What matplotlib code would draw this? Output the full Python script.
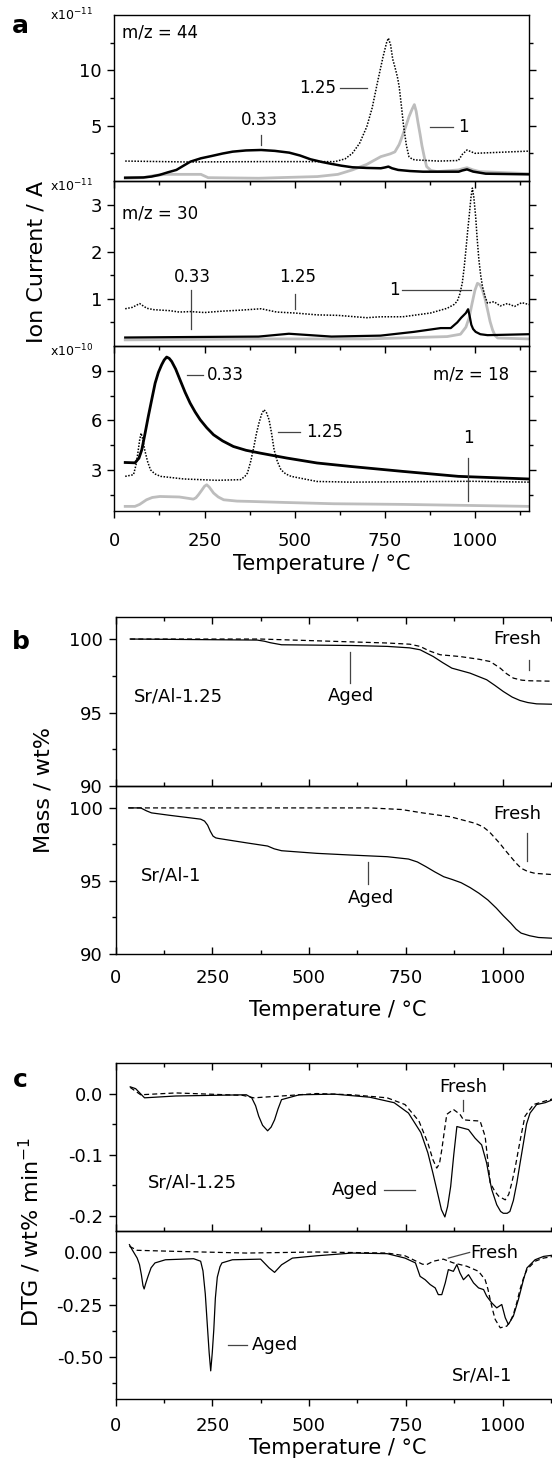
import matplotlib
matplotlib.use("Agg")
import matplotlib.pyplot as plt
from matplotlib.ticker import MultipleLocator, FixedLocator, FormatStrFormatter

# ---- panel a : MS ion currents (m/z 44, 30, 18) for Sr/Al = 0.33, 1, 1.25 ----
t44_033 = [30, 80, 103, 125, 150, 172, 190, 211, 240, 270, 300, 328, 365, 407, 445, 485, 515, 544, 575, 603,
           630, 660, 700, 739, 750, 760, 770, 787, 820, 856, 955, 965, 978, 995, 1030, 1150]
i44_033 = [0.3, 0.32, 0.4, 0.55, 0.8, 1.0, 1.35, 1.75, 2.05, 2.26, 2.48, 2.65, 2.76, 2.8, 2.72, 2.56, 2.3, 1.96,
           1.72, 1.54, 1.38, 1.24, 1.18, 1.15, 1.22, 1.3, 1.15, 1.0, 0.9, 0.84, 0.84, 0.95, 1.05, 0.85, 0.66, 0.6]
t44_1 = [30, 80, 110, 143, 240, 250, 260, 400, 563, 620, 660, 700, 739, 765, 778, 790, 798, 808, 817, 826, 832,
         837, 842, 848, 853, 860, 866, 878, 895, 955, 965, 978, 995, 1013, 1150]
i44_1 = [0.24, 0.3, 0.5, 0.6, 0.6, 0.45, 0.3, 0.25, 0.4, 0.6, 1.0, 1.5, 2.2, 2.45, 2.63, 3.3, 4.0, 4.9, 5.8, 6.5,
         6.9, 6.3, 5.3, 4.2, 3.2, 2.1, 1.3, 0.95, 0.85, 1.0, 1.1, 1.2, 1.0, 0.85, 0.66]
t44_125 = [30, 200, 400, 612, 640, 660, 680, 700, 715, 729, 745, 755, 760, 766, 772, 778, 785, 790, 796, 802,
           810, 817, 827, 837, 900, 954, 965, 978, 1000, 1150]
i44_125 = [1.8, 1.72, 1.75, 1.75, 2.0, 2.5, 3.4, 4.9, 6.6, 8.8, 11.2, 12.5, 12.9, 12.3, 11.0, 10.3, 9.4, 8.5, 6.8,
           5.0, 3.2, 2.2, 1.95, 1.9, 1.8, 1.85, 2.4, 2.8, 2.5, 2.7]

t30_033 = [30, 200, 400, 484, 602, 738, 831, 905, 933, 951, 962, 975, 981, 985, 990, 995, 1002, 1015, 1035, 1150]
i30_033 = [0.18, 0.19, 0.2, 0.26, 0.2, 0.22, 0.3, 0.38, 0.38, 0.5, 0.6, 0.7, 0.78, 0.65, 0.45, 0.36, 0.3, 0.25,
           0.23, 0.25]
t30_1 = [30, 400, 700, 923, 960, 975, 984, 992, 1000, 1007, 1014, 1021, 1028, 1035, 1042, 1049, 1056, 1063, 1150]
i30_1 = [0.13, 0.15, 0.15, 0.2, 0.25, 0.4, 0.6, 0.9, 1.18, 1.33, 1.3, 1.19, 1.0, 0.77, 0.52, 0.34, 0.22, 0.17, 0.15]
t30_125 = [30, 50, 70, 90, 110, 153, 180, 211, 250, 300, 350, 407, 450, 500, 563, 620, 700, 738, 800, 877, 923,
           942, 951, 958, 965, 970, 975, 980, 984, 989, 993, 997, 1002, 1006, 1011, 1016, 1021, 1028, 1035, 1053,
           1070, 1090, 1110, 1130, 1150]
i30_125 = [0.79, 0.82, 0.9, 0.8, 0.77, 0.75, 0.72, 0.73, 0.71, 0.74, 0.76, 0.79, 0.72, 0.7, 0.66, 0.65, 0.6, 0.62,
           0.62, 0.7, 0.8, 0.88, 0.95, 1.1, 1.34, 1.65, 2.04, 2.45, 2.75, 3.15, 3.35, 3.15, 2.75, 2.3, 1.83, 1.5,
           1.26, 1.05, 0.91, 0.94, 0.85, 0.9, 0.84, 0.92, 0.88]

t18_033 = [30, 57, 68, 76, 85, 94, 104, 113, 122, 131, 138, 145, 152, 159, 170, 182, 196, 210, 224, 238, 256, 275,
           300, 330, 365, 404, 478, 562, 655, 800, 954, 1150]
i18_033 = [3.44, 3.42, 3.7, 4.21, 5.2, 6.23, 7.3, 8.25, 8.9, 9.36, 9.65, 9.83, 9.75, 9.56, 9.1, 8.45, 7.7, 7.04,
           6.5, 6.03, 5.55, 5.12, 4.75, 4.41, 4.18, 4.01, 3.71, 3.41, 3.2, 2.9, 2.6, 2.44]
t18_1 = [30, 57, 70, 89, 105, 126, 180, 219, 226, 233, 242, 250, 256, 263, 275, 288, 303, 340, 377, 469, 608, 800,
         1150]
i18_1 = [0.78, 0.78, 0.9, 1.18, 1.32, 1.38, 1.35, 1.22, 1.3, 1.48, 1.75, 2.0, 2.09, 1.95, 1.59, 1.35, 1.18, 1.1,
         1.08, 1.02, 0.94, 0.9, 0.78]
t18_125 = [30, 53, 60, 65, 70, 74, 78, 84, 92, 100, 112, 128, 193, 285, 350, 362, 369, 378, 387, 394, 401, 408,
           415, 422, 429, 436, 443, 452, 462, 475, 490, 562, 655, 993, 1150]
i18_125 = [2.6, 2.7, 3.3, 4.0, 4.8, 5.22, 4.9, 4.21, 3.5, 3.0, 2.75, 2.6, 2.44, 2.36, 2.4, 2.6, 2.8, 3.5, 4.41,
           5.2, 5.83, 6.35, 6.64, 6.45, 6.03, 5.2, 4.21, 3.5, 3.0, 2.75, 2.6, 2.29, 2.25, 2.3, 2.25]

# ---- panel b : TG mass curves ----
tb1_fresh = [38, 375, 520, 702, 760, 787, 810, 839, 890, 940, 968, 994, 1010, 1028, 1050, 1071, 1150]
mb1_fresh = [100, 100, 99.88, 99.73, 99.65, 99.5, 99.2, 98.93, 98.81, 98.62, 98.47, 98.02, 97.65, 97.34, 97.2,
             97.16, 97.12]
tb1_aged = [38, 366, 385, 400, 429, 611, 702, 760, 787, 821, 845, 869, 916, 959, 980, 1002, 1025, 1045, 1065,
            1088, 1150]
mb1_aged = [100, 99.93, 99.85, 99.75, 99.61, 99.56, 99.5, 99.4, 99.27, 98.81, 98.4, 98.02, 97.68, 97.23, 96.85,
            96.43, 96.05, 95.82, 95.68, 95.59, 95.55]
tb2_fresh = [34, 520, 657, 739, 793, 866, 930, 950, 966, 980, 993, 1007, 1021, 1035, 1048, 1065, 1084, 1150]
mb2_fresh = [100, 100, 100, 99.89, 99.66, 99.39, 98.94, 98.7, 98.36, 97.95, 97.57, 97.1, 96.66, 96.22, 95.87,
             95.65, 95.52, 95.4]
tb2_aged = [34, 65, 80, 93, 138, 220, 230, 238, 245, 252, 259, 266, 338, 393, 410, 429, 520, 611, 702, 757, 780,
            802, 825, 848, 870, 893, 916, 939, 962, 984, 1002, 1021, 1035, 1048, 1070, 1093, 1150]
mb2_aged = [100, 100, 99.8, 99.66, 99.5, 99.23, 99.1, 98.82, 98.4, 98.07, 97.95, 97.91, 97.61, 97.39, 97.2, 97.07,
            96.89, 96.77, 96.66, 96.5, 96.3, 95.98, 95.62, 95.29, 95.1, 94.88, 94.55, 94.16, 93.7, 93.14, 92.62,
            92.12, 91.7, 91.43, 91.25, 91.13, 91.05]

# ---- panel c : DTG curves ----
tc1_aged = [38, 52, 75, 156, 338, 352, 362, 370, 380, 393, 402, 411, 420, 429, 475, 566, 657, 720, 757, 789, 807,
            820, 830, 842, 851, 858, 866, 874, 882, 912, 929, 946, 959, 965, 972, 985, 995, 1002, 1012, 1019, 1028,
            1037, 1045, 1054, 1062, 1071, 1088, 1110, 1150]
dc1_aged = [0.011, 0.008, -0.007, -0.004, -0.002, -0.007, -0.02, -0.037, -0.052, -0.061, -0.055, -0.043, -0.025,
            -0.01, -0.002, -0.001, -0.006, -0.015, -0.032, -0.064, -0.097, -0.13, -0.157, -0.19, -0.202, -0.185,
            -0.152, -0.1, -0.054, -0.059, -0.073, -0.084, -0.114, -0.135, -0.157, -0.182, -0.193, -0.196, -0.196,
            -0.193, -0.175, -0.146, -0.115, -0.081, -0.05, -0.032, -0.018, -0.015, -0.005]
tc1_fresh = [38, 65, 156, 329, 357, 429, 520, 611, 702, 748, 784, 807, 820, 830, 837, 843, 850, 856, 873, 890,
             899, 916, 942, 955, 962, 968, 980, 990, 1007, 1016, 1024, 1033, 1041, 1050, 1058, 1080, 1106, 1150]
dc1_fresh = [0.010, -0.002, 0.001, -0.003, -0.007, -0.004, 0.0, -0.002, -0.007, -0.018, -0.045, -0.081, -0.108,
             -0.122, -0.115, -0.092, -0.06, -0.034, -0.026, -0.034, -0.043, -0.044, -0.045, -0.07, -0.11, -0.146,
             -0.16, -0.168, -0.174, -0.165, -0.146, -0.12, -0.092, -0.062, -0.037, -0.018, -0.013, -0.005]
tc2_aged = [36, 43, 56, 62, 67, 71, 74, 78, 84, 92, 102, 129, 202, 220, 226, 232, 238, 242, 246, 250, 254, 258,
            263, 270, 275, 302, 375, 397, 411, 429, 457, 520, 611, 702, 748, 775, 787, 800, 813, 826, 834, 843,
            852, 860, 873, 882, 890, 899, 912, 925, 938, 951, 959, 972, 985, 998, 1007, 1015, 1028, 1041, 1054,
            1063, 1084, 1106, 1150]
dc2_aged = [0.035, 0.011, -0.029, -0.06, -0.11, -0.16, -0.176, -0.15, -0.116, -0.075, -0.052, -0.037, -0.032,
            -0.044, -0.09, -0.2, -0.369, -0.48, -0.566, -0.48, -0.369, -0.22, -0.12, -0.07, -0.052, -0.037,
            -0.034, -0.076, -0.097, -0.061, -0.029, -0.018, -0.005, -0.008, -0.029, -0.052, -0.116, -0.132,
            -0.155, -0.171, -0.203, -0.203, -0.147, -0.084, -0.092, -0.06, -0.1, -0.132, -0.108, -0.147, -0.171,
            -0.179, -0.21, -0.242, -0.266, -0.25, -0.313, -0.345, -0.305, -0.226, -0.132, -0.076, -0.037,
            -0.021, -0.01]
tc2_fresh = [36, 56, 156, 338, 520, 702, 748, 793, 804, 821, 847, 873, 908, 938, 955, 962, 968, 975, 981, 994,
             1011, 1020, 1028, 1037, 1045, 1054, 1063, 1084, 1106, 1150]
dc2_fresh = [0.027, 0.008, 0.003, -0.005, 0.0, -0.005, -0.018, -0.058, -0.06, -0.044, -0.034, -0.052, -0.068,
             -0.092, -0.132, -0.175, -0.226, -0.28, -0.321, -0.361, -0.353, -0.33, -0.297, -0.24, -0.179, -0.125,
             -0.084, -0.044, -0.029, -0.015]

plt.rcParams['font.family'] = ['DejaVu Sans']
plt.rcParams['axes.unicode_minus'] = False
plt.rcParams['mathtext.default'] = 'regular'
plt.rcParams['axes.linewidth'] = 1.0

W, H = 552, 1465
fig = plt.figure(figsize=(W / 100, H / 100), dpi=100)
GRAY = '#bdbdbd'
ANN = '#444444'
DOT = (0, (1, 1))
DASH = (0, (4, 2.5))
TICK = 13


def box(left, right, top, bottom):
    return [left / W, 1 - bottom / H, (right - left) / W, (bottom - top) / H]


def style(ax, bottom_dir, top_dir=None, labels=False, xpad=10):
    ax.set_facecolor('none')
    ax.set_xlim(0, 1150)
    ax.xaxis.set_major_locator(MultipleLocator(250))
    ax.xaxis.set_minor_locator(MultipleLocator(125))
    ax.tick_params(axis='y', which='both', labelsize=TICK, pad=4)
    ax.tick_params(axis='y', which='both', right=True, direction='in')
    ax.tick_params(axis='y', which='both', left=True, direction='out')
    ax.tick_params(which='major', length=5, width=1)
    ax.tick_params(which='minor', length=3, width=1)
    ax.tick_params(axis='x', which='both', bottom=True, direction=bottom_dir, labelbottom=labels,
                   labelsize=TICK, pad=xpad)
    if top_dir is not None:
        ax.tick_params(axis='x', which='both', top=True)


def ann(ax, pts, lw=0.9):
    xs, ys = zip(*pts)
    ax.plot(xs, ys, color=ANN, lw=lw)


# ================= panel a =================
a1 = fig.add_axes(box(114.4, 529, 15, 181))
a2 = fig.add_axes(box(114.4, 529, 181, 346))
a3 = fig.add_axes(box(114.4, 529, 346, 511))

a1.plot(t44_1, i44_1, color=GRAY, lw=2.0)
a1.plot(t44_033, i44_033, color='black', lw=1.8)
a1.plot(t44_125, i44_125, color='black', ls=DOT, lw=1.1)
a1.set_ylim(0, 14.99)
a1.yaxis.set_major_locator(FixedLocator([5, 10]))
a1.yaxis.set_minor_locator(FixedLocator([2.5, 7.5, 12.5]))
a1.text(20, 13.4, 'm/z = 44', fontsize=12, va='center')
a1.text(401, 5.5, '0.33', fontsize=12, ha='center', va='center')
ann(a1, [(406, 4.15), (406, 3.25)])
a1.text(563, 8.37, '1.25', fontsize=12, ha='center', va='center')
ann(a1, [(626, 8.37), (700, 8.37)])
a1.text(969, 4.9, '1', fontsize=12, ha='center', va='center')
ann(a1, [(876, 4.9), (939, 4.9)])

a2.plot(t30_1, i30_1, color=GRAY, lw=2.0)
a2.plot(t30_033, i30_033, color='black', lw=1.6)
a2.plot(t30_125, i30_125, color='black', ls=DOT, lw=1.1)
a2.set_ylim(0, 3.5)
a2.yaxis.set_major_locator(FixedLocator([1, 2, 3]))
a2.yaxis.set_minor_locator(FixedLocator([0.5, 1.5, 2.5]))
a2.text(20, 2.8, 'm/z = 30', fontsize=12, va='center')
a2.text(215, 1.47, '0.33', fontsize=12, ha='center', va='center')
ann(a2, [(213, 1.19), (213, 0.36)])
a2.text(509, 1.47, '1.25', fontsize=12, ha='center', va='center')
ann(a2, [(502, 1.1), (502, 0.79)])
a2.text(778, 1.18, '1', fontsize=12, ha='center', va='center')
ann(a2, [(797, 1.18), (988, 1.18)])

a3.plot(t18_1, i18_1, color=GRAY, lw=2.0)
a3.plot(t18_033, i18_033, color='black', lw=2.0)
a3.plot(t18_125, i18_125, color='black', ls=DOT, lw=1.1)
a3.set_ylim(0.5, 10.5)
a3.yaxis.set_major_locator(FixedLocator([3, 6, 9]))
a3.yaxis.set_minor_locator(FixedLocator([1.5, 4.5, 7.5]))
a3.text(308, 8.76, '0.33', fontsize=12, ha='center', va='center')
ann(a3, [(200, 8.76), (245, 8.76)])
a3.text(582, 5.28, '1.25', fontsize=12, ha='center', va='center')
ann(a3, [(455, 5.28), (514, 5.28)])
a3.text(988, 8.76, 'm/z = 18', fontsize=12, ha='center', va='center')
a3.text(981, 4.92, '1', fontsize=12, ha='center', va='center')
ann(a3, [(981, 3.71), (981, 1.08)])

for ax in (a1, a2):
    style(ax, 'out')
style(a3, 'out', labels=True, xpad=10)
a3.set_xlabel('Temperature / \u00b0C', fontsize=15, labelpad=3)

fig.text(50 / W, 1 - 23 / H, r'x10$^{-11}$', fontsize=9, va='bottom')
fig.text(50 / W, 1 - 194 / H, r'x10$^{-11}$', fontsize=9, va='bottom')
fig.text(50 / W, 1 - 359 / H, r'x10$^{-10}$', fontsize=9, va='bottom')
fig.text(37 / W, 1 - 262 / H, 'Ion Current / A', fontsize=16, rotation=90, ha='center', va='center')
fig.text(20 / W, 1 - 33 / H, 'a', fontsize=18, fontweight='bold', ha='center', va='baseline')

# ================= panel b =================
b1 = fig.add_axes(box(115.5, 560.6, 617, 786))
b2 = fig.add_axes(box(115.5, 560.6, 786, 954))

b1.plot(tb1_fresh, mb1_fresh, color='black', ls=DASH, lw=0.9)
b1.plot(tb1_aged, mb1_aged, color='black', lw=0.9)
b2.plot(tb2_fresh, mb2_fresh, color='black', ls=DASH, lw=0.9)
b2.plot(tb2_aged, mb2_aged, color='black', lw=0.9)
for ax in (b1, b2):
    ax.set_ylim(90, 101.5)
    ax.yaxis.set_major_locator(FixedLocator([90, 95, 100]))
    ax.yaxis.set_minor_locator(FixedLocator([92.5, 97.5]))
style(b1, 'in', top_dir='in')
style(b2, 'in', labels=True, xpad=11)
b2.set_xlabel('Temperature / \u00b0C', fontsize=15, labelpad=9)

b1.text(47, 96.1, 'Sr/Al-1.25', fontsize=13, va='center')
b1.text(609, 96.1, 'Aged', fontsize=13, ha='center', va='center')
ann(b1, [(607, 99.11), (607, 97.04)])
b1.text(1039, 100.0, 'Fresh', fontsize=13, ha='center', va='center')
ann(b1, [(1069, 98.6), (1069, 97.86)])

b2.text(65, 95.4, 'Sr/Al-1', fontsize=13, va='center')
b2.text(659, 93.8, 'Aged', fontsize=13, ha='center', va='center')
ann(b2, [(652, 96.28), (652, 94.8)])
b2.text(1037, 99.6, 'Fresh', fontsize=13, ha='center', va='center')
ann(b2, [(1062, 98.3), (1062, 96.4)])

fig.text(44 / W, 1 - 790 / H, 'Mass / wt%', fontsize=16, rotation=90, ha='center', va='center')
fig.text(21 / W, 1 - 649 / H, 'b', fontsize=18, fontweight='bold', ha='center', va='baseline')

# ================= panel c =================
c1 = fig.add_axes(box(115.5, 560.6, 1063, 1231))
c2 = fig.add_axes(box(115.5, 560.6, 1231, 1399))

c1.plot(tc1_fresh, dc1_fresh, color='black', ls=DASH, lw=0.9)
c1.plot(tc1_aged, dc1_aged, color='black', lw=0.9)
c1.set_ylim(-0.225, 0.05)
c1.yaxis.set_major_locator(FixedLocator([-0.2, -0.1, 0.0]))
c1.yaxis.set_minor_locator(FixedLocator([-0.15, -0.05]))
c1.yaxis.set_major_formatter(FormatStrFormatter('%.1f'))

c2.plot(tc2_fresh, dc2_fresh, color='black', ls=DASH, lw=0.9)
c2.plot(tc2_aged, dc2_aged, color='black', lw=0.9)
c2.set_ylim(-0.7, 0.1)
c2.yaxis.set_major_locator(FixedLocator([-0.5, -0.25, 0.0]))
c2.yaxis.set_minor_locator(FixedLocator([-0.625, -0.375, -0.125]))
c2.yaxis.set_major_formatter(FormatStrFormatter('%.2f'))

style(c1, 'in', top_dir='in')
style(c2, 'out', labels=True, xpad=8)
c2.set_xlabel('Temperature / \u00b0C', fontsize=15, labelpad=2)

c1.text(84, -0.145, 'Sr/Al-1.25', fontsize=13, va='center')
c1.text(620, -0.158, 'Aged', fontsize=13, ha='center', va='center')
ann(c1, [(693, -0.158), (775, -0.158)])
c1.text(898, 0.011, 'Fresh', fontsize=13, ha='center', va='center')
ann(c1, [(898, -0.0098), (898, -0.029)])

c2.text(948, -0.59, 'Sr/Al-1', fontsize=13, ha='center', va='center')
c2.text(352, -0.445, 'Aged', fontsize=13, va='center')
ann(c2, [(291, -0.445), (339, -0.445)])
c2.text(916, -0.005, 'Fresh', fontsize=13, va='center')
ann(c2, [(860, -0.029), (915, -0.002)])

fig.text(30 / W, 1 - 1232 / H, 'DTG / wt% min$^{-1}$', fontsize=16, rotation=90, ha='center', va='center')
fig.text(20 / W, 1 - 1087 / H, 'c', fontsize=18, fontweight='bold', ha='center', va='baseline')

fig.savefig('out.png', dpi=100)
